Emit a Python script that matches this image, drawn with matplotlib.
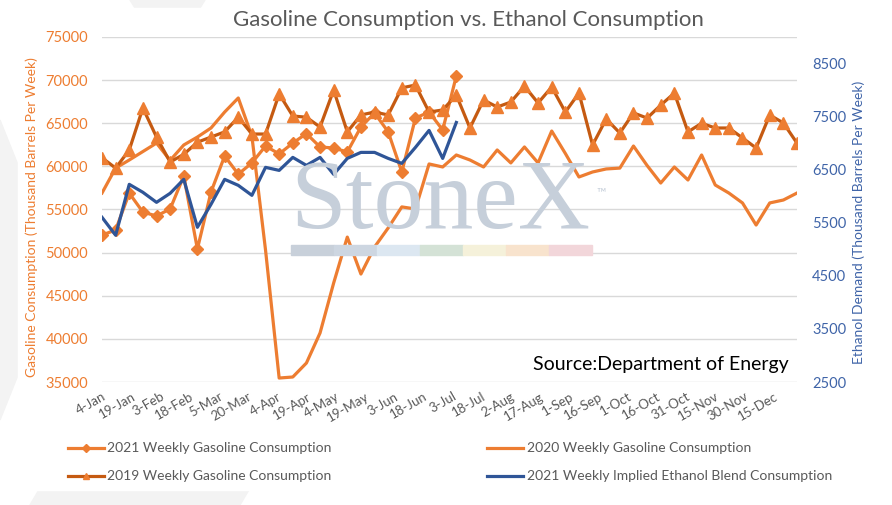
import matplotlib
matplotlib.use("Agg")
import matplotlib.pyplot as plt
from matplotlib.lines import Line2D
from matplotlib.patches import Rectangle, Polygon
import pandas as pd

plt.rcParams['font.family'] = ['Lato', 'DejaVu Sans']

# weekly dates shared by every series (plotted on a 2021 calendar)
weeks = pd.date_range('2021-01-04', periods=52, freq='7D')

gas_2021 = [52040, 52620, 56900, 54700, 54250, 55060, 58880, 50420, 57030,
            61200, 59100, 60400, 62360, 61440, 62700, 63800, 62250, 62130,
            61670, 64570, 66190, 64000, 59350, 65600, 66300, 64220, 70480]

gas_2020 = [56910, 59800, 60740, 61720, 62700, 60700, 62480, 63400, 64450,
            66300, 67930, 63500, 50300, 35460, 35580, 37200, 40680, 46480,
            51800, 47520, 50650, 52860, 55300, 55060, 60280, 59930, 61320,
            60740, 59930, 61900, 60400, 62250, 60400, 64100, 61500, 58770,
            59350, 59700, 59800, 62360, 60100, 58070, 59930, 58420, 61320,
            57840, 56910, 55760, 53200, 55760, 56100, 56910]

gas_2019 = [61000, 59800, 61900, 66770, 63400, 60500, 61400, 62800, 63400,
            64000, 65700, 63750, 63750, 68400, 65840, 65700, 64560, 68850,
            64000, 65960, 66300, 65960, 69100, 69430, 66300, 66540, 68270,
            64450, 67700, 66880, 67460, 69300, 67350, 69200, 66300, 68500,
            62480, 65500, 63870, 66200, 65600, 67100, 68500, 64000, 65000,
            64450, 64450, 63300, 62130, 65960, 65030, 62700]

ethanol_2021 = [5603, 5265, 6224, 6074, 5885, 6055, 6318, 5415, 5848, 6318,
                6205, 6017, 6544, 6487, 6732, 6581, 6732, 6412, 6713, 6826,
                6826, 6713, 6619, 6920, 7240, 6713, 7390]

labels = ['2021 Weekly Gasoline Consumption', '2020 Weekly Gasoline Consumption',
          '2019 Weekly Gasoline Consumption',
          '2021 Weekly Implied Ethanol Blend Consumption']

ORANGE = '#ED7D31'
DARK_ORANGE = '#C55A11'
BLUE = '#2F5597'
RBLUE = '#3F64A8'
GRAY = '#595959'

fig = plt.figure(figsize=(8.92, 5.05), dpi=100)

# faint background shapes behind the white chart card
W, H = 892, 505
def fpoly(pts, c):
    fig.patches.append(Polygon([(x / W, 1 - y / H) for x, y in pts], closed=True,
                               transform=fig.transFigure, color=c, zorder=-2))
fpoly([(0, 120), (60, 270), (0, 420)], '#F3F3F3')
fpoly([(30, 505), (40, 488), (250, 488), (240, 505)], '#F3F3F3')
fpoly([(130, 0), (205, 0), (200, 8), (135, 8)], '#F3F3F3')
fig.patches.append(Rectangle((18 / W, 1 - 490 / H), 870 / W, 482 / H,
                             transform=fig.transFigure, color='white', zorder=-1))

ax = fig.add_axes([102 / W, 1 - 382 / H, 695 / W, 345 / H])

# watermark
fig.text(290 / W, 1 - 228 / H, 'StoneX', family='Liberation Serif', fontsize=72,
         color='#C6CFDA', ha='left', va='baseline', zorder=0)
fig.text(596 / W, 1 - 196 / H, '\u2122', fontsize=9, color='#C6CFDA', zorder=0)
bar_cols = ['#C8D0DA', '#CDD6E1', '#DCE7F1', '#D4E2D6', '#F5F1DA', '#F8E3CD', '#F2D6DA']
for k, c in enumerate(bar_cols):
    fig.patches.append(Rectangle(((291 + 43 * k) / W, 1 - 255 / H), 43 / W, 10 / H,
                                 transform=fig.transFigure, color=c, zorder=0))

ax.set_facecolor('none')
ax.plot(weeks[:len(gas_2021)], gas_2021, color=ORANGE, lw=2.3, marker='D',
        ms=6.5, zorder=3)
ax.plot(weeks, gas_2020, color=ORANGE, lw=2.3, zorder=3)
ax.plot(weeks, gas_2019, color=DARK_ORANGE, lw=2.3, marker='^', ms=9,
        mfc=ORANGE, mec=ORANGE, zorder=3)

ax.set_ylim(35000, 75000)
ax.set_yticks(range(35000, 75001, 5000))
ax.set_xlim(weeks[0], weeks[-1])
ticks = pd.date_range('2021-01-04', '2021-12-20', freq='15D')
ax.set_xticks(ticks)
ax.set_xticklabels([f"{d.day}-{d.strftime('%b')}" for d in ticks], rotation=30,
                   ha='right', va='top', rotation_mode='anchor', color=GRAY, fontsize=9.5)
ax.grid(axis='y', color='#D9D9D9', lw=1)
ax.set_axisbelow(True)
ax.tick_params(length=0)
ax.tick_params(axis='y', colors=ORANGE, labelsize=10.5, pad=10)
ax.tick_params(axis='x', pad=6)
for s in ax.spines.values():
    s.set_visible(False)
ax.set_ylabel('Gasoline Consumption (Thousand Barrels Per Week)', color=ORANGE,
              fontsize=10, labelpad=5)
ax.yaxis.label.set_y(0.477)

ax2 = ax.twinx()
ax2.plot(weeks[:len(ethanol_2021)], ethanol_2021, color=BLUE, lw=2.3)
ax2.set_ylim(2500, 9000)
ax2.set_yticks(range(2500, 8501, 1000))
ax2.tick_params(length=0, colors=RBLUE, labelsize=10.5, pad=11)
for s in ax2.spines.values():
    s.set_visible(False)
ax2.set_ylabel('Ethanol Demand (Thousand Barrels Per Week)', color=RBLUE,
               fontsize=10, labelpad=4)
ax2.yaxis.label.set_y(0.463)

fig.text(468 / W, 1 - 20 / H, 'Gasoline Consumption vs. Ethanol Consumption',
         ha='center', va='center', fontsize=16, color=GRAY)
ax.text(0.988, 0.05, 'Source:Department of Energy', transform=ax.transAxes,
        ha='right', va='center', fontsize=14, color='black')

handles = [
    Line2D([], [], color=ORANGE, lw=2.3, marker='D', ms=4),
    Line2D([], [], color=DARK_ORANGE, lw=2.3, marker='^', ms=5, mfc=ORANGE, mec=ORANGE),
    Line2D([], [], color=ORANGE, lw=2.3),
    Line2D([], [], color=BLUE, lw=2.3),
]
order = [labels[0], labels[2], labels[1], labels[3]]
fig.legend(handles, order, loc='upper left', bbox_to_anchor=(55 / W, 1 - 430 / H),
           ncol=2, frameon=False, fontsize=10, labelcolor=GRAY, handlelength=2.6,
           handletextpad=0.25, columnspacing=11.2, labelspacing=1.15)

fig.savefig('out.png', dpi=100)
